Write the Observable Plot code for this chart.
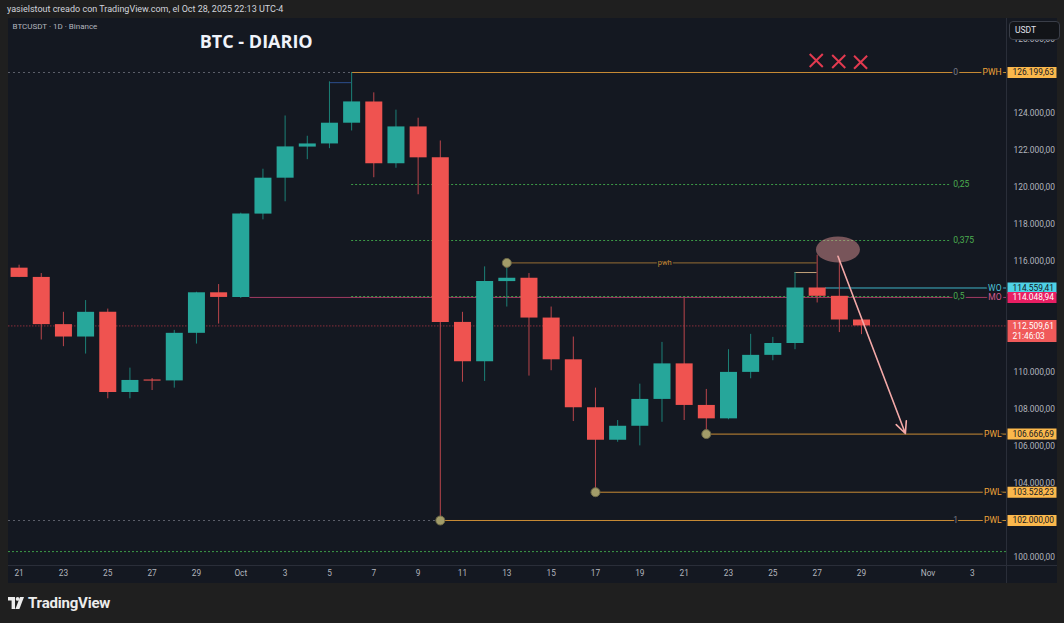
<!DOCTYPE html>
<html><head><meta charset="utf-8">
<script src="https://cdn.jsdelivr.net/npm/d3@7"></script>
<script src="https://cdn.jsdelivr.net/npm/@observablehq/plot@0.6"></script>
<style>
html,body{margin:0;padding:0;background:#1f1f1f;width:1064px;height:623px;overflow:hidden;font-family:Roboto,"Liberation Sans",sans-serif;}
#hdr{height:18px;line-height:19px;padding-left:7px;font-size:9px;color:#d1d4dc;white-space:nowrap;}
#wrap{position:relative;margin-left:8px;width:1049px;height:565px;}
#usdt{position:absolute;left:1001px;top:3px;width:44px;height:17px;border:1px solid #3a3e48;border-radius:4px;background:#121418;color:#e0e3eb;font-size:8.5px;line-height:16px;padding-left:5px;box-sizing:content-box;}
#ftr{height:40px;display:flex;align-items:center;padding-left:8px;color:#ececec;font-weight:700;font-size:15px;letter-spacing:-0.2px;}
#ftr svg{margin-right:4px;}
</style></head>
<body>
<div id="hdr">yasielstout creado con TradingView.com, el Oct 28, 2025 22:13 UTC-4</div>
<div id="wrap"><div id="chart"></div><div id="usdt">USDT</div></div>
<div id="ftr"><svg width="16" height="12" viewBox="0 0 16 12"><path d="M0 0h7v12H3.6V3.4H0z" fill="#ececec"/><circle cx="9.6" cy="1.9" r="1.9" fill="#ececec"/><path d="M12 0h4l-4.6 12H7.4z" fill="#ececec"/></svg>TradingView</div>
<script>
// ---- candle data (BTCUSDT, 1D) ----
const dates = ["2025-09-21","2025-09-22","2025-09-23","2025-09-24","2025-09-25","2025-09-26","2025-09-27","2025-09-28","2025-09-29","2025-09-30",
"2025-10-01","2025-10-02","2025-10-03","2025-10-04","2025-10-05","2025-10-06","2025-10-07","2025-10-08","2025-10-09","2025-10-10",
"2025-10-11","2025-10-12","2025-10-13","2025-10-14","2025-10-15","2025-10-16","2025-10-17","2025-10-18","2025-10-19","2025-10-20",
"2025-10-21","2025-10-22","2025-10-23","2025-10-24","2025-10-25","2025-10-26","2025-10-27","2025-10-28","2025-10-29"];
const opens = [115630,115130,112580,111910,113245,108915,109590,109540,112110,114300,
114049,118550,120490,122170,122340,123460,124610,121270,123260,121590,
112700,110575,114905,115085,112935,110680,108090,106335,107090,108540,
110460,108215,107490,110000,110920,111560,114559.41,114110,112830];
const highs = [115790,115340,113245,113880,113420,110230,109670,112270,114330,114745,
118600,120975,123850,122755,125695,126199.63,125100,124165,123730,122500,
113245,115700,115913,115340,113530,111910,109150,107400,109365,111620,
113990,109080,111225,112055,111890,115394,116330,116100,112850];
const lows = [115120,111750,111390,110990,108575,108575,109020,109150,111530,112610,
113990,118240,119215,121490,122085,123040,120515,121025,119595,102000,
109470,109510,113530,109800,110090,107345,103528.23,106225,106030,107305,
107400,106666.69,107440,109655,110630,111225,113750,112150,112040];
const closes = [115130,112580,111910,113245,108915,109565,109540,112110,114300,114049,
118550,120490,122180,122340,123460,124610,121270,123260,121590,112700,
110575,114905,115085,112935,110680,108090,106335,107090,108540,110460,
108215,107490,110000,110920,111560,114559.41,114110,112830,112509.61];

// ---- axis ticks (the price ticks that are not hidden behind a price label) ----
const xTickDates = ["2025-09-21","2025-09-23","2025-09-25","2025-09-27","2025-09-29","2025-10-01","2025-10-03","2025-10-05","2025-10-07","2025-10-09","2025-10-11","2025-10-13","2025-10-15","2025-10-17","2025-10-19","2025-10-21","2025-10-23","2025-10-25","2025-10-27","2025-10-29","2025-11-01","2025-11-03"];
const xTickLabels = ["21","23","25","27","29","Oct","3","5","7","9","11","13","15","17","19","21","23","25","27","29","Nov","3"];
const yTicks = [100000,104000,106000,108000,110000,116000,118000,120000,122000,124000,128000];

// ---- drawings ----
const fibPrices = [126199.63,120149.72,117124.76,114099.82,102000];
const fibLabels = ["0","0,25","0,375","0,5","1"];
const fibFrom = [null,"2025-10-06","2025-10-06","2025-10-06",null];
const fibTo = "2025-11-02";
const pwhPrice = 126199.63, pwhFrom = "2025-10-06";
const pwlPrices = [106666.69,103528.23,102000];
const pwlFrom = ["2025-10-22","2025-10-17","2025-10-10"];
const woPrice = 114559.41, woFrom = "2025-10-27T09:00Z";
const moPrice = 114048.94, moFrom = "2025-10-01T10:00Z";
const lastPrice = 112509.61, countdown = "21:46:03";
const lowLine = 100320;
const pivotDates = ["2025-10-10","2025-10-17","2025-10-22","2025-10-13"];
const pivotPrices = [102000,103528.23,106666.69,115913];
const pwhMinor = {from:"2025-10-13", to:"2025-10-27", price:115913, label:"pwh", labelAt:"2025-10-20T03:00Z"};
const bracketOrange = {from:"2025-10-26", to:"2025-10-27", price:115394};
const bracketBlue = {from:"2025-10-05", to:"2025-10-06", price:125650};
const crossDates = ["2025-10-26T23:00Z","2025-10-27T23:20Z","2025-10-28T23:00Z"];
const crossPrices = [126847,126793,126755];
const ellipseAt = {date:"2025-10-27T22:30Z", price:116638};
const arrowFrom = {date:"2025-10-27T22:30Z", price:116276};
const arrowTo = {date:"2025-10-30T23:30Z", price:106700};
const titleAt = {date:"2025-09-29T03:30Z", price:127820, text:"BTC - DIARIO"};

// ---- build ----
const D = s => new Date(s.length === 10 ? s + "T00:00:00Z" : s);
const candles = dates.map((d,i)=>({date:D(d), open:opens[i], high:highs[i], low:lows[i], close:closes[i], up: closes[i] >= opens[i]}));
const xDomain = [D("2025-09-20T12:32:00Z"), D("2025-11-04T12:58:00Z")];
const yDomain = [99569, 129116];
const xStart = xDomain[0], xEnd = xDomain[1];
const fmt = d3.formatLocale({decimal:",", thousands:".", grouping:[3], currency:["",""]}).format(",.2f");
const labelMap = new Map(xTickDates.map((d,i)=>[+D(d), xTickLabels[i]]));
const BG = "#141821";
const UP = "#26a69a", DOWN = "#ef5350", UPW = "#1c8077", DOWNW = "#b9454b";
const AXFS = 8.4;

const fibs = fibPrices.map((p,i)=>({price:p, label:fibLabels[i], from: fibFrom[i] ? D(fibFrom[i]) : xStart, to: D(fibTo), green: fibFrom[i] !== null}));

function boxSym(top, bottom){ return {draw(ctx){ ctx.moveTo(1,top); ctx.lineTo(50,top); ctx.lineTo(50,bottom); ctx.lineTo(1,bottom); ctx.closePath(); }}; }
const ellipseSym = {draw(ctx){ const rx=22, ry=13, k=0.5523; ctx.moveTo(rx,0); ctx.bezierCurveTo(rx,ry*k,rx*k,ry,0,ry); ctx.bezierCurveTo(-rx*k,ry,-rx,ry*k,-rx,0); ctx.bezierCurveTo(-rx,-ry*k,-rx*k,-ry,0,-ry); ctx.bezierCurveTo(rx*k,-ry,rx,-ry*k,rx,0); ctx.closePath(); }};

const axisBoxes = [
  {price:pwhPrice, fill:"#fbb84c", color:"#131722"},
  {price:woPrice, fill:"#4fd2e6", color:"#131722"},
  {price:moPrice, fill:"#e91e63", color:"#ffffff"},
  {price:pwlPrices[0], fill:"#fbb84c", color:"#131722"},
  {price:pwlPrices[1], fill:"#fbb84c", color:"#131722"},
  {price:pwlPrices[2], fill:"#fbb84c", color:"#131722"}
];
const sideLabels = [
  {price:pwhPrice, text:"PWH", color:"#f0a53a"},
  {price:woPrice, text:"WO", color:"#4fc3d7"},
  {price:moPrice, text:"MO", color:"#d35a8c"},
  {price:pwlPrices[0], text:"PWL", color:"#f0a53a"},
  {price:pwlPrices[1], text:"PWL", color:"#f0a53a"},
  {price:pwlPrices[2], text:"PWL", color:"#f0a53a"}
];

const marks = [
  Plot.axisY({anchor:"right", ticks:yTicks, tickFormat:fmt, tickSize:0, tickPadding:7, fontSize:AXFS, label:null, fill:"#b2b5be"}),
  Plot.axisX({ticks:xTickDates.map(D), tickFormat:d=>labelMap.get(+d), tickSize:0, tickPadding:5, fontSize:8.3, label:null, fill:"#b2b5be"}),
  Plot.ruleX([xEnd], {stroke:"#2a2e39", insetBottom:-18}),
  Plot.ruleY([yDomain[0]], {stroke:"#2a2e39", x1:xStart, x2:xEnd, insetRight:-51}),
  // level lines
  Plot.ruleY([lowLine], {y:d=>d, x1:xStart, x2:xEnd, stroke:"#3d9a47", strokeDasharray:"2,2"}),
  Plot.ruleY([lastPrice], {y:d=>d, x1:xStart, x2:xEnd, stroke:"#8a2d3a", strokeDasharray:"1.5,1.5"}),
  Plot.ruleY(fibs.filter(d=>!d.green), {y:"price", x1:"from", x2:"to", stroke:"#5d606b", strokeDasharray:"2,3"}),
  Plot.ruleY([moPrice], {y:d=>d, x1:D(moFrom), x2:xEnd, stroke:"#a13b63"}),
  Plot.ruleY(fibs.filter(d=>d.green), {y:"price", x1:"from", x2:"to", stroke:"#3d9a47", strokeDasharray:"2,2"}),
  Plot.ruleY([pwhPrice], {y:d=>d, x1:D(pwhFrom), x2:xEnd, stroke:"#c98b35"}),
  Plot.ruleY(pwlPrices.map((p,i)=>({p, from:D(pwlFrom[i])})), {y:"p", x1:"from", x2:xEnd, stroke:"#c98b35"}),
  Plot.ruleY([woPrice], {y:d=>d, x1:D(woFrom), x2:xEnd, stroke:"#3fb4c6"}),
  Plot.ruleY([pwhMinor], {y:"price", x1:d=>D(d.from), x2:d=>D(d.to), stroke:"#7d5c30", strokeWidth:1.3}),
  Plot.ruleY([bracketOrange], {y:"price", x1:d=>D(d.from), x2:d=>D(d.to), stroke:"#c4a47a"}),
  Plot.ruleY([bracketBlue], {y:"price", x1:d=>D(d.from), x2:d=>D(d.to), stroke:"#2c4f8e"}),
  // candles
  Plot.ruleX(candles, {x:"date", y1:"low", y2:"high", stroke:d=>d.up?UPW:DOWNW}),
  Plot.ruleX(candles, {x:"date", y1:"open", y2:d=>Math.abs(d.close-d.open)<60 ? d.open + (d.up?60:-60) : d.close, stroke:d=>d.up?UP:DOWN, strokeWidth:17}),
  // pwh label
  Plot.text([pwhMinor], {x:d=>D(d.labelAt), y:"price", text:"label", fill:"#c98b35", fontSize:7.5, stroke:BG, strokeWidth:3}),
  // fib labels
  Plot.text(fibs, {x:"to", y:"price", text:"label", textAnchor:"start", dx:3, fill:d=>d.green?"#4caf50":"#787b86", fontSize:8.5, stroke:BG, strokeWidth:3}),
  // pivots
  Plot.dot(pivotDates.map((d,i)=>({date:D(d), price:pivotPrices[i]})), {x:"date", y:"price", r:4.5, fill:"#a29c69", stroke:"#6e6a48", strokeWidth:1}),
  // ellipse + arrow
  Plot.dot([ellipseAt], {x:d=>D(d.date), y:"price", r:1, symbol:ellipseSym, fill:"#f2a0a0", fillOpacity:0.45}),
  Plot.arrow([{a:arrowFrom, b:arrowTo}], {x1:d=>D(d.a.date), y1:d=>d.a.price, x2:d=>D(d.b.date), y2:d=>d.b.price, stroke:"#f4a9a8", strokeWidth:1.6, headLength:12, headAngle:50}),
  // crosses
  Plot.dot(crossDates.map((d,i)=>({date:D(d), price:crossPrices[i]})), {x:"date", y:"price", symbol:"times", r:6, stroke:"#e23a50", strokeWidth:2}),
  // titles
  Plot.text([titleAt], {x:d=>D(d.date), y:"price", text:"text", textAnchor:"start", fill:"#f0f3fa", fontSize:18, fontWeight:700, fontFamily:"'Open Sans', Roboto, sans-serif"}),
  Plot.text(["BTCUSDT · 1D · Binance"], {frameAnchor:"top-left", text:d=>d, dx:4, dy:5, fill:"#b2b5be", fontSize:8, textAnchor:"start"}),
  // side labels
  Plot.text(sideLabels, {y:"price", text:"text", frameAnchor:"right", dx:-5, textAnchor:"end", fill:d=>d.color, fontSize:8.5, stroke:BG, strokeWidth:4})
];
for (const b of axisBoxes) {
  marks.push(Plot.dot([b], {y:"price", frameAnchor:"right", r:1, symbol:boxSym(-5.5,5.5), fill:b.fill}));
  marks.push(Plot.text([b], {y:"price", text:d=>fmt(d.price), frameAnchor:"right", dx:6, textAnchor:"start", fill:b.color, fontSize:AXFS}));
}
marks.push(Plot.dot([lastPrice], {y:d=>d, frameAnchor:"right", r:1, symbol:boxSym(-6,16), fill:"#f05a5a"}));
marks.push(Plot.text([lastPrice], {y:d=>d, text:d=>fmt(d), frameAnchor:"right", dx:6, textAnchor:"start", fill:"#ffffff", fontSize:AXFS}));
marks.push(Plot.text([lastPrice], {y:d=>d, text:()=>countdown, frameAnchor:"right", dx:6, dy:10, textAnchor:"start", fill:"#ffffff", fontSize:AXFS}));

const chart = Plot.plot({
  width:1049, height:565,
  marginLeft:0, marginRight:51, marginTop:0, marginBottom:18,
  x:{type:"utc", domain:xDomain},
  y:{domain:yDomain},
  style:{background:BG, color:"#b2b5be", fontFamily:"Roboto, 'Liberation Sans', sans-serif", overflow:"visible"},
  marks
});
document.getElementById("chart").appendChild(chart);
</script>
</body></html>
